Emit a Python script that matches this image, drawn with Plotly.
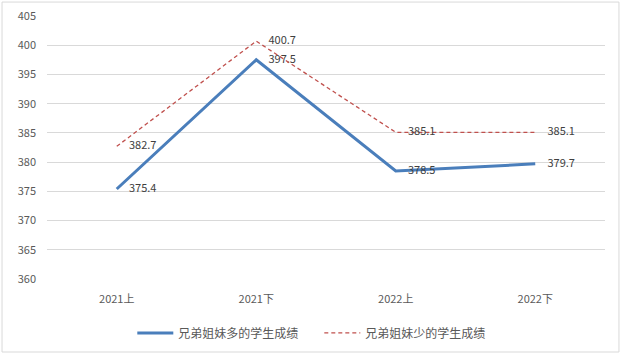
import plotly.graph_objects as go

categories = ["2021上", "2021下", "2022上", "2022下"]
many_siblings = [375.4, 397.5, 378.5, 379.7]
few_siblings = [382.7, 400.7, 385.1, 385.1]
y_ticks = [360, 365, 370, 375, 380, 385, 390, 395, 400, 405]

FONT = "Noto Sans CJK SC, Liberation Sans, sans-serif"

fig = go.Figure()
fig.add_trace(go.Scatter(
    x=categories, y=many_siblings, mode="lines+markers+text",
    name="兄弟姐妹多的学生成绩",
    line=dict(color="#4a7ebb", width=3),
    marker=dict(size=18, color="rgba(0,0,0,0)"),
    text=[f"{v:.1f}" for v in many_siblings],
    textposition="middle right",
    textfont=dict(size=11, color="#404040", family=FONT),
))
fig.add_trace(go.Scatter(
    x=categories, y=few_siblings, mode="lines+markers+text",
    name="兄弟姐妹少的学生成绩",
    line=dict(color="#c0504d", width=1.3, dash="4px,3px"),
    marker=dict(size=18, color="rgba(0,0,0,0)"),
    text=[f"{v:.1f}" for v in few_siblings],
    textposition="middle right",
    textfont=dict(size=11, color="#404040", family=FONT),
))

fig.update_layout(
    width=623, height=357,
    margin=dict(l=47, r=18, t=16, b=78, autoexpand=False),
    paper_bgcolor="white", plot_bgcolor="white",
    font=dict(family=FONT, size=11, color="#595959"),
    showlegend=True,
    legend=dict(orientation="h", x=0.488, xanchor="center", y=-0.205, yanchor="middle",
                font=dict(size=12, color="#595959"), itemwidth=36,
                entrywidth=136, traceorder="normal"),
    xaxis=dict(type="category", range=[-0.5, 3.5], showgrid=False, zeroline=False,
               showline=False, ticks="", tickfont=dict(size=11, color="#595959"),
               ticklabelstandoff=12, automargin=False),
    yaxis=dict(range=[360, 405], tickvals=y_ticks, showgrid=True, gridcolor="#d9d9d9",
               gridwidth=1, zeroline=False, showline=False, ticks="", ticklabelstandoff=10,
               tickfont=dict(size=11, color="#595959"), automargin=False),
    shapes=[dict(type="rect", xref="paper", yref="paper",
                 x0=-0.0806, x1=1.025, y0=-0.2776, y1=1.053,
                 line=dict(color="#d9d9d9", width=1), fillcolor="rgba(0,0,0,0)")],
)

fig.write_html("out.html", config={"displayModeBar": False},
               post_script="document.body.style.margin='0';")
